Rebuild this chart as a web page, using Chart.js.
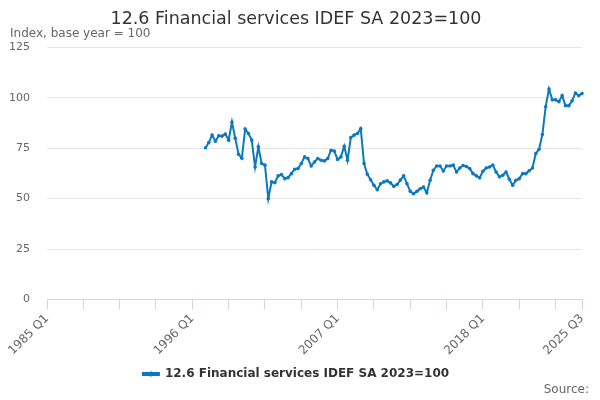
<!DOCTYPE html>
<html>
<head>
<meta charset="utf-8">
<script src="https://cdn.jsdelivr.net/npm/chart.js@4.4.1/dist/chart.umd.min.js"></script>
<style>
  html, body { margin: 0; padding: 0; background: #fff; }
  #wrap { width: 600px; height: 400px; }
</style>
</head>
<body>
<div id="wrap"><canvas id="lineChart" width="600" height="400"></canvas></div>
<script>
// axis runs 1985 Q1 .. 2025 Q3, series starts 1997 Q1
var firstYear = 1985;
var lastYear = 2025;
var lastQuarter = 3;
var seriesStart = "1997 Q1";
var seriesName = "12.6 Financial services IDEF SA 2023=100";
var shownLabels = ["1985 Q1", "1996 Q1", "2007 Q1", "2018 Q1", "2025 Q3"];
var yTicks = [0, 25, 50, 75, 100, 125];

// 1997 Q1 .. 2025 Q3
var values = [
  75.2, 77.8, 81.5, 78.5, 81.2, 81.0, 82.0, 79.0, 88.0, 80.0,
  72.0, 70.0, 84.5, 82.3, 79.0, 65.7, 75.7, 67.4, 66.6, 50.0,
  58.3, 57.9, 61.3, 61.9, 59.9, 60.4, 62.4, 64.6, 64.9, 67.4,
  70.7, 69.9, 66.2, 68.2, 69.9, 69.0, 68.7, 69.9, 74.0, 73.6,
  69.4, 70.7, 76.0, 69.0, 80.3, 81.5, 82.3, 84.7, 67.4, 62.1,
  59.4, 56.6, 54.4, 57.4, 58.3, 58.8, 57.8, 56.1, 57.0, 59.2,
  61.3, 57.4, 53.6, 52.4, 53.6, 54.9, 55.8, 52.9, 59.1, 64.1,
  66.2, 66.2, 63.7, 66.2, 66.2, 66.6, 63.2, 65.2, 66.4, 65.9,
  64.9, 62.4, 61.3, 60.3, 63.6, 65.2, 65.7, 66.6, 63.2, 60.8,
  61.6, 63.2, 59.6, 56.6, 59.1, 59.9, 62.4, 62.4, 63.8, 65.2,
  72.4, 74.5, 81.8, 95.6, 104.4, 99.0, 99.0, 98.1, 101.1, 96.1,
  96.1, 98.5, 102.4, 101.1, 102.1
];

var quarters = [];
for (var y = firstYear; y <= lastYear; y++) {
    for (var q = 1; q <= 4; q++) {
        if (y == lastYear && q > lastQuarter) break;
        quarters.push(y + " Q" + q);
    }
}

var startIdx = quarters.indexOf(seriesStart);
var plotData = [];
for (var i = 0; i < quarters.length; i++) {
    plotData.push(i < startIdx ? null : values[i - startIdx]);
}

var blue = "#0b79bf";
var lastIdx = quarters.length - 1;

// dot in the legend symbol + "Source:" footer
var extras = {
    id: "extras",
    afterDraw: function (chart) {
        var ctx = chart.ctx;
        var boxes = chart.legend.legendHitBoxes;
        ctx.save();
        if (boxes && boxes.length) {
            var b = boxes[0];
            ctx.fillStyle = blue;
            ctx.beginPath();
            ctx.arc(b.left + 8, b.top + b.height / 2, 2.5, 0, Math.PI * 2);
            ctx.fill();
        }
        ctx.fillStyle = "#666";
        ctx.font = "12px 'DejaVu Sans'";
        ctx.textAlign = "right";
        ctx.textBaseline = "middle";
        ctx.fillText("Source:", 589, 390);
        ctx.restore();
    }
};

new Chart(document.getElementById("lineChart"), {
    type: "line",
    data: {
        labels: quarters,
        datasets: [{
            label: seriesName,
            data: plotData,
            borderColor: blue,
            backgroundColor: blue,
            borderWidth: 2,
            pointRadius: 1.8,
            pointBackgroundColor: blue,
            pointBorderWidth: 0,
            tension: 0,
            fill: false
        }]
    },
    plugins: [extras],
    options: {
        responsive: false,
        animation: false,
        devicePixelRatio: 1,
        layout: { padding: { left: 10, right: 18, top: 6, bottom: 10 } },
        plugins: {
            title: {
                display: true,
                text: "12.6 Financial services IDEF SA 2023=100",
                color: "#333",
                font: { family: "DejaVu Sans", size: 17.5, weight: "normal" },
                padding: { top: 3, bottom: -3 }
            },
            subtitle: {
                display: true,
                text: "Index, base year = 100",
                align: "start",
                color: "#666",
                font: { family: "DejaVu Sans", size: 12 },
                padding: { top: 0, bottom: 6 }
            },
            legend: {
                position: "bottom",
                labels: {
                    boxWidth: 16,
                    boxHeight: 2,
                    color: "#333",
                    font: { family: "DejaVu Sans", size: 12, weight: "bold" },
                    padding: 8
                }
            },
            tooltip: { enabled: false }
        },
        scales: {
            x: {
                type: "category",
                offset: false,
                border: { display: true, color: "#ccd6eb", width: 1 },
                grid: {
                    drawOnChartArea: false,
                    drawTicks: true,
                    tickLength: 10,
                    tickColor: function (c) {
                        return (c.index % 11 === 0 || c.index === lastIdx) ? "#ccd6eb" : "rgba(0,0,0,0)";
                    }
                },
                ticks: {
                    autoSkip: false,
                    minRotation: 45,
                    maxRotation: 45,
                    padding: 2,
                    color: "#666",
                    font: { family: "DejaVu Sans", size: 12 },
                    callback: function (val, idx) {
                        var lab = this.getLabelForValue(val);
                        return shownLabels.indexOf(lab) >= 0 ? lab : "";
                    }
                }
            },
            y: {
                min: 0,
                max: 125,
                afterBuildTicks: function (scale) {
                    scale.ticks = yTicks.map(function (v) { return { value: v }; });
                },
                afterFit: function (scale) { scale.width = 37; },
                border: { display: false },
                grid: { color: "#e6e6e6", drawTicks: false },
                ticks: {
                    padding: 17,
                    color: "#666",
                    font: { family: "DejaVu Sans", size: 11 }
                }
            }
        }
    }
});
</script>
</body>
</html>
